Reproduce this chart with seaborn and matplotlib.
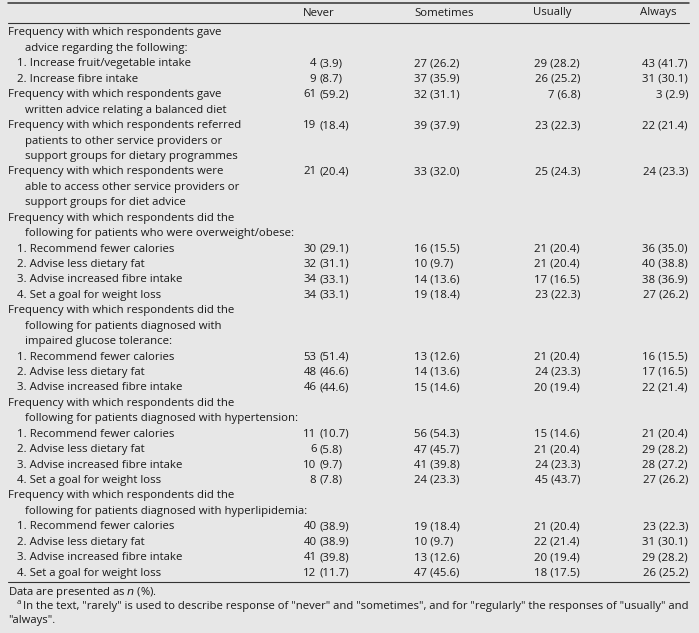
import seaborn as sns
import matplotlib.pyplot as plt

# Table content
labels = [
    "Frequency with which respondents gave\nadvice regarding the following:",
    "1. Increase fruit/vegetable intake",
    "2. Increase fibre intake",
    "Frequency with which respondents gave\nwritten advice relating a balanced diet",
    "Frequency with which respondents referred\npatients to other service providers or\nsupport groups for dietary programmes",
    "Frequency with which respondents were\nable to access other service providers or\nsupport groups for diet advice",
    "Frequency with which respondents did the\nfollowing for patients who were overweight/obese:",
    "1. Recommend fewer calories",
    "2. Advise less dietary fat",
    "3. Advise increased fibre intake",
    "4. Set a goal for weight loss",
    "Frequency with which respondents did the\nfollowing for patients diagnosed with\nimpaired glucose tolerance:",
    "1. Recommend fewer calories",
    "2. Advise less dietary fat",
    "3. Advise increased fibre intake",
    "Frequency with which respondents did the\nfollowing for patients diagnosed with hypertension:",
    "1. Recommend fewer calories",
    "2. Advise less dietary fat",
    "3. Advise increased fibre intake",
    "4. Set a goal for weight loss",
    "Frequency with which respondents did the\nfollowing for patients diagnosed with hyperlipidemia:",
    "1. Recommend fewer calories",
    "2. Advise less dietary fat",
    "3. Advise increased fibre intake",
    "4. Set a goal for weight loss",
]
columns = ["Never", "Sometimes", "Usually", "Always"]
never = ["", "4 (3.9)", "9 (8.7)", "61 (59.2)", "19 (18.4)", "21 (20.4)", "",
         "30 (29.1)", "32 (31.1)", "34 (33.1)", "34 (33.1)", "",
         "53 (51.4)", "48 (46.6)", "46 (44.6)", "",
         "11 (10.7)", "6 (5.8)", "10 (9.7)", "8 (7.8)", "",
         "40 (38.9)", "40 (38.9)", "41 (39.8)", "12 (11.7)"]
sometimes = ["", "27 (26.2)", "37 (35.9)", "32 (31.1)", "39 (37.9)", "33 (32.0)", "",
             "16 (15.5)", "10 (9.7)", "14 (13.6)", "19 (18.4)", "",
             "13 (12.6)", "14 (13.6)", "15 (14.6)", "",
             "56 (54.3)", "47 (45.7)", "41 (39.8)", "24 (23.3)", "",
             "19 (18.4)", "10 (9.7)", "13 (12.6)", "47 (45.6)"]
usually = ["", "29 (28.2)", "26 (25.2)", "7 (6.8)", "23 (22.3)", "25 (24.3)", "",
           "21 (20.4)", "21 (20.4)", "17 (16.5)", "23 (22.3)", "",
           "21 (20.4)", "24 (23.3)", "20 (19.4)", "",
           "15 (14.6)", "21 (20.4)", "24 (23.3)", "45 (43.7)", "",
           "21 (20.4)", "22 (21.4)", "20 (19.4)", "18 (17.5)"]
always = ["", "43 (41.7)", "31 (30.1)", "3 (2.9)", "22 (21.4)", "24 (23.3)", "",
          "36 (35.0)", "40 (38.8)", "38 (36.9)", "27 (26.2)", "",
          "16 (15.5)", "17 (16.5)", "22 (21.4)", "",
          "21 (20.4)", "29 (28.2)", "28 (27.2)", "27 (26.2)", "",
          "23 (22.3)", "31 (30.1)", "29 (28.2)", "26 (25.2)"]
note = "Data are presented as $\\it{n}$ (%)."
footnote = ('In the text, "rarely" is used to describe response of "never" and "sometimes", '
            'and for "regularly" the responses of "usually" and')
footnote_end = '"always".'

sns.set_theme(style="white")
plt.rcParams["font.family"] = ["Open Sans", "DejaVu Sans"]
bg = "#e7e7e7"
ink = "#1a1a1a"
fs = 8.2

fig = plt.figure(figsize=(6.99, 6.33), dpi=100, facecolor=bg)
ax = fig.add_axes([0, 0, 1, 1])
ax.set_facecolor(bg)
ax.set_xlim(0, 699)
ax.set_ylim(633, 0)
ax.axis("off")

# rules
ax.plot([8, 689], [3, 3], color="#333333", lw=1.1)
ax.plot([8, 689], [23, 23], color="#333333", lw=0.8)
ax.plot([8, 689], [582, 582], color="#333333", lw=0.8)

# header
ax.text(335, 13, columns[0], ha="right", va="center", fontsize=fs, color=ink)
ax.text(414, 13, columns[1], ha="left", va="center", fontsize=fs, color=ink)
ax.text(533, 13, columns[2], ha="left", va="center", fontsize=fs, color=ink)
ax.text(677, 13, columns[3], ha="right", va="center", fontsize=fs, color=ink)

y0, step = 33, 15.43
line = 0
for i, lab in enumerate(labels):
    y = y0 + line * step
    parts = lab.split("\n")
    for j, p in enumerate(parts):
        if j > 0:
            x = 25
        elif p[0].isdigit():
            x = 17
        else:
            x = 8
        ax.text(x, y + j * step, p, ha="left", va="center", fontsize=fs, color=ink)
    if never[i]:
        n, pct = never[i].split(" ", 1)
        ax.text(316.5, y, n, ha="right", va="center", fontsize=fs, color=ink)
        ax.text(320, y, pct, ha="left", va="center", fontsize=fs, color=ink)
        ax.text(414, y, sometimes[i], ha="left", va="center", fontsize=fs, color=ink)
        ax.text(580, y, usually[i], ha="right", va="center", fontsize=fs, color=ink)
        ax.text(688, y, always[i], ha="right", va="center", fontsize=fs, color=ink)
    line += len(parts)

# notes
nfs = 8.1
ax.text(8, 592, note, ha="left", va="center", fontsize=nfs, color=ink)
ax.text(17, 603, "a", ha="left", va="center", fontsize=nfs - 2.5, color=ink)
ax.text(23, 606, footnote, ha="left", va="center", fontsize=nfs, color=ink)
ax.text(8, 620, footnote_end, ha="left", va="center", fontsize=nfs, color=ink)

fig.savefig("out.png", dpi=100, facecolor=bg)
